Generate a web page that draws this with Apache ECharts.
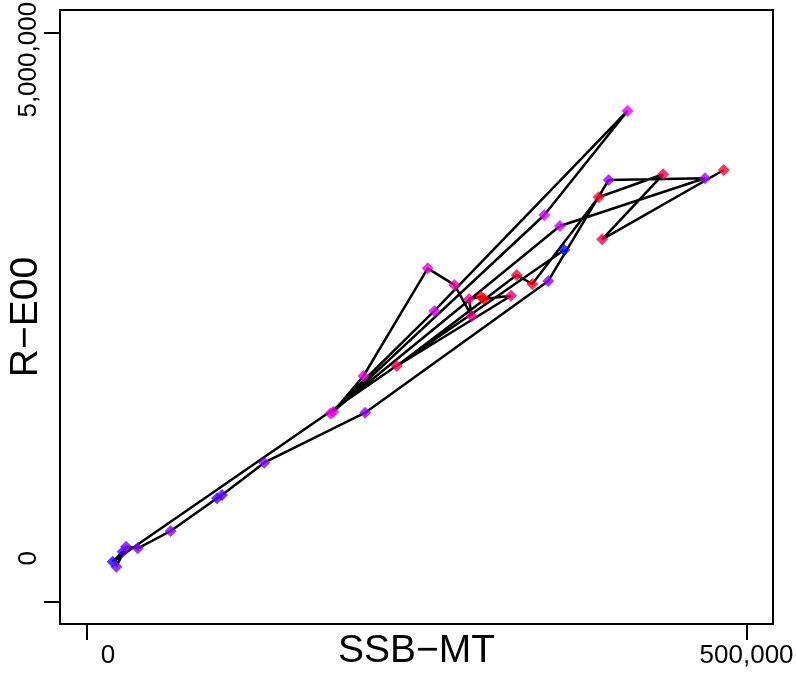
<!DOCTYPE html>
<html><head><meta charset="utf-8">
<script src="https://cdn.jsdelivr.net/npm/echarts@6/dist/echarts.min.js"></script>
<style>html,body{margin:0;padding:0;background:#fff}#c{width:796px;height:675px}</style>
</head><body><div id="c"></div>
<script>
// SSB (x) and recruitment (y), in path order
const ssb = [361900, 19900, 27500, 22700, 30100, 38900, 63800, 98900, 102700, 134700, 211100, 349800, 395500, 468500, 358600, 184800, 263500, 409800, 346800, 186800, 209800, 258500, 278700, 291800, 289800, 298900, 301100, 321600, 235100, 325900, 337700, 387900, 436800, 390600, 482700];
const recruits = [3089000, 348000, 436000, 304000, 480000, 466000, 618000, 906000, 935000, 1219000, 1658000, 2817000, 3705000, 3720000, 3300000, 1652000, 2553000, 4312000, 3397000, 1664000, 1981000, 2928000, 2782000, 2509000, 2658000, 2679000, 2658000, 2687000, 2069000, 2869000, 2790000, 3553000, 3755000, 3183000, 3793000];
const pointColors = ['#0a0aff', '#2000ff', '#4000ff', '#7000ff', '#7800ff', '#8000ff', '#8a00ff', '#5000ff', '#5800ff', '#8a00ff', '#9000ff', '#9400ff', '#a000ff', '#a800ff', '#cc00ff', '#e000ee', '#dd00ff', '#e600ff', '#dd00ff', '#ee00e0', '#f000e0', '#f000d0', '#f000a8', '#e8008c', '#f00090', '#ff0008', '#ff0010', '#f00060', '#f00055', '#ff0040', '#ff0020', '#ff0025', '#f20050', '#f20055', '#ff0030'];
const xTicks = [0, 500000];
const yTicks = [0, 5000000];
const xTitle = 'SSB\u2212MT';
const yTitle = 'R\u2212E00';

const FONT = '"Liberation Sans", Arial, Helvetica, sans-serif';
const pts = ssb.map((x, i) => [x, recruits[i]]);
const fmt = v => v.toLocaleString('en-US');

const chart = echarts.init(document.getElementById('c'), null, {renderer: 'canvas'});
chart.setOption({
  animation: false,
  backgroundColor: '#fff',
  grid: {left: 60, top: 10, right: 23, bottom: 51, containLabel: false, outerBoundsMode: 'none', show: true, borderColor: '#000', borderWidth: 2, backgroundColor: 'transparent'},
  xAxis: {
    type: 'value', min: -20000, max: 520000,
    splitLine: {show: false}, axisLine: {show: false, onZero: false},
    axisTick: {show: true, customValues: xTicks, length: 16, lineStyle: {color: '#000', width: 2}},
    axisLabel: {
      customValues: xTicks, margin: 19, color: '#000', fontFamily: FONT, fontSize: 26,
      formatter: v => v === 0 ? '{a|0}' : '{b|' + fmt(v) + '}',
      rich: {a: {fontFamily: FONT, fontSize: 26, color: '#000', padding: [0, 0, 0, 43]}, b: {fontFamily: FONT, fontSize: 26, color: '#000'}}
    },
    name: xTitle, nameLocation: 'middle', nameGap: 8, nameMoveOverlap: false,
    nameTextStyle: {fontFamily: FONT, fontSize: 39, color: '#000', verticalAlign: 'top'}
  },
  yAxis: {
    type: 'value', min: -200000, max: 5200000,
    splitLine: {show: false}, axisLine: {show: false, onZero: false},
    axisTick: {show: true, customValues: yTicks, length: 16, lineStyle: {color: '#000', width: 2}},
    axisLabel: {
      customValues: yTicks, rotate: 90, margin: 18, color: '#000', fontFamily: FONT, fontSize: 26,
      formatter: v => v === 0 ? '{a|0}' : '{b|' + fmt(v) + '}',
      rich: {a: {fontFamily: FONT, fontSize: 26, color: '#000', padding: [0, 0, 0, 86]}, b: {fontFamily: FONT, fontSize: 26, color: '#000', padding: [0, 54, 0, 0]}}
    },
    name: yTitle, nameLocation: 'middle', nameGap: 14, nameMoveOverlap: false,
    nameTextStyle: {fontFamily: FONT, fontSize: 39, color: '#000'}
  },
  series: [
    {type: 'line', data: pts, symbol: 'none', lineStyle: {color: '#000', width: 2.5}, z: 2, silent: true},
    {type: 'scatter', data: pts.map((p, i) => ({value: p, itemStyle: {color: pointColors[i]}})), symbol: 'diamond', symbolSize: 12, z: 3, silent: true}
  ]
});
</script></body></html>
